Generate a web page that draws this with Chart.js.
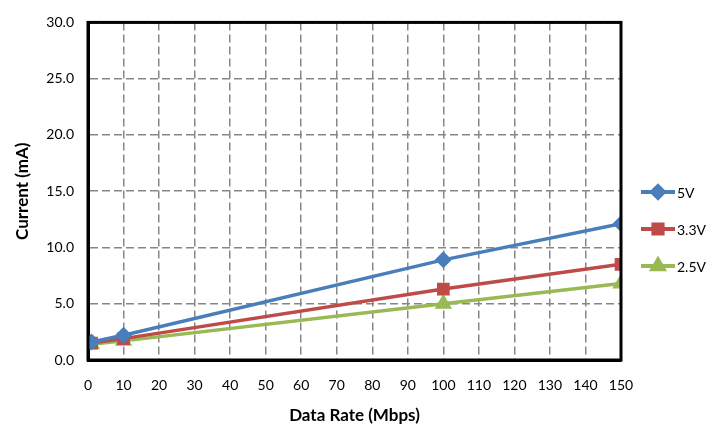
<!DOCTYPE html>
<html>
<head>
<meta charset="utf-8">
<script src="https://cdn.jsdelivr.net/npm/chart.js@4"></script>
<style>
  html, body { margin: 0; padding: 0; background: #fff; }
  #wrap { width: 716px; height: 428px; }
</style>
</head>
<body>
<div id="wrap"><canvas id="currentChart" width="716" height="428"></canvas></div>
<script>
const dataRates = [1, 10, 100, 150];
const current5V = [1.6, 2.2, 8.9, 12.1];
const current33V = [1.5, 1.9, 6.3, 8.5];
const current25V = [1.4, 1.7, 5.0, 6.8];
const seriesLabels = ['5V', '3.3V', '2.5V'];
const xTicks = [0, 10, 20, 30, 40, 50, 60, 70, 80, 90, 100, 110, 120, 130, 140, 150];
const yTicks = [0, 5, 10, 15, 20, 25, 30];

const colors = ['#4a7ebb', '#be4b48', '#98b954'];
const markers = ['rectRot', 'rect', 'triangle'];
const markerSizes = [6, 6.5, 6.5];

function toPoints(ys) {
    return dataRates.map((x, i) => ({ x: x, y: ys[i] }));
}

// frame around the plot area plus a hand-drawn legend with line + marker
const framePlugin = {
    id: 'frame',
    afterDatasetsDraw(chart) {
        const { ctx, chartArea: a } = chart;
        ctx.save();
        ctx.strokeStyle = '#000';
        ctx.lineWidth = 3;
        ctx.strokeRect(a.left, a.top, a.right - a.left, a.bottom - a.top);
        ctx.restore();
    },
    afterDraw(chart) {
        const { ctx } = chart;
        const startY = 192, step = 37;
        chart.data.datasets.forEach((ds, i) => {
            const y = startY + i * step;
            ctx.save();
            ctx.strokeStyle = ds.borderColor;
            ctx.lineWidth = 4;
            ctx.beginPath();
            ctx.moveTo(641, y);
            ctx.lineTo(675, y);
            ctx.stroke();
            Chart.helpers.drawPoint(ctx, {
                pointStyle: ds.pointStyle,
                radius: ds.pointRadius,
                borderWidth: 1
            }, 658, y);
            ctx.fillStyle = ds.borderColor;
            ctx.fill();
            ctx.fillStyle = '#000';
            ctx.font = '14px Lato';
            ctx.textBaseline = 'middle';
            ctx.fillText(ds.label, 677, y + 1);
            ctx.restore();
        });
    }
};

const datasets = [current5V, current33V, current25V].map((ys, i) => ({
    label: seriesLabels[i],
    data: toPoints(ys),
    borderColor: colors[i],
    backgroundColor: colors[i],
    pointBackgroundColor: colors[i],
    pointBorderColor: colors[i],
    pointStyle: markers[i],
    pointRadius: markerSizes[i],
    borderWidth: 3.5,
    tension: 0
}));

new Chart(document.getElementById('currentChart').getContext('2d'), {
    type: 'line',
    data: { datasets: datasets },
    options: {
        responsive: false,
        animation: false,
        layout: { padding: { left: 0, top: 21, right: 95, bottom: 0 } },
        scales: {
            x: {
                type: 'linear',
                min: 0, max: 150,
                afterBuildTicks: (s) => { s.ticks = xTicks.map(v => ({ value: v })); },
                afterFit: (s) => { s.height = 68; },
                ticks: { color: '#000', font: { family: 'Lato', size: 14 }, padding: 17 },
                grid: { color: '#878787', lineWidth: 1.5, drawTicks: false },
                border: { display: true, color: '#000', width: 3, dash: [8, 4] },
                title: {
                    display: true, text: 'Data Rate (Mbps)', color: '#000',
                    font: { family: 'Lato', size: 17, weight: 'bold' },
                    padding: { top: 0, bottom: 2 }
                }
            },
            y: {
                min: 0, max: 30,
                afterBuildTicks: (s) => { s.ticks = yTicks.map(v => ({ value: v })); },
                afterFit: (s) => { s.width = 88; },
                ticks: {
                    color: '#000', font: { family: 'Lato', size: 14 }, padding: 14,
                    callback: (v) => v.toFixed(1)
                },
                grid: { color: '#878787', lineWidth: 1.5, drawTicks: false },
                border: { display: true, color: '#000', width: 3, dash: [8, 4] },
                title: {
                    display: true, text: 'Current (mA)', color: '#000',
                    font: { family: 'Lato', size: 17, weight: 'bold' },
                    padding: { top: 12, bottom: 0 }
                }
            }
        },
        plugins: {
            legend: { display: false },
            tooltip: { enabled: false }
        }
    },
    plugins: [framePlugin]
});
</script>
</body>
</html>
